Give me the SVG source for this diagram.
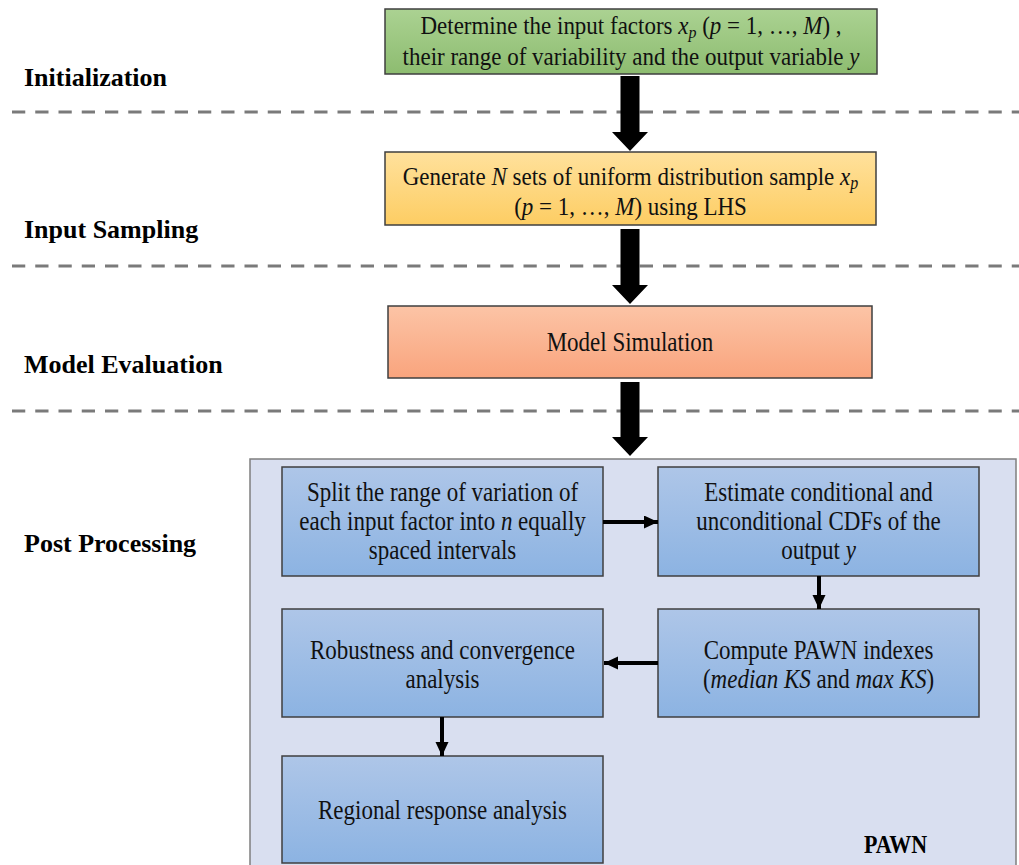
<svg xmlns="http://www.w3.org/2000/svg" width="1019" height="865" viewBox="0 0 1019 865">
<style>
.lbl{font-family:"Liberation Serif","Times New Roman",serif;font-weight:bold;font-size:26px;fill:#000}
.t{font-family:"Liberation Serif","Times New Roman",serif;font-size:23px;fill:#111;text-anchor:middle}
.i{font-style:italic}
.sub{font-style:italic;font-size:16px}
.box{stroke:#3f3f3f;stroke-width:1.5}
.dash{stroke:#7a7a7a;stroke-width:3;stroke-dasharray:13.25 10;fill:none}
.big{fill:#000}
.conn{stroke:#000;stroke-width:4;fill:none}
</style>
<defs>
<linearGradient id="gG" x1="0" y1="0" x2="0" y2="1"><stop offset="0" stop-color="#abd292"/><stop offset="1" stop-color="#8dbc70"/></linearGradient>
<linearGradient id="gY" x1="0" y1="0" x2="0" y2="1"><stop offset="0" stop-color="#ffe19c"/><stop offset="1" stop-color="#fdcd63"/></linearGradient>
<linearGradient id="gO" x1="0" y1="0" x2="0" y2="1"><stop offset="0" stop-color="#fcc4a6"/><stop offset="1" stop-color="#f9a47d"/></linearGradient>
<linearGradient id="gB" x1="0" y1="0" x2="0" y2="1"><stop offset="0" stop-color="#aec6e8"/><stop offset="1" stop-color="#8cb3e2"/></linearGradient>
<marker id="ah" markerUnits="userSpaceOnUse" markerWidth="15" markerHeight="14" refX="14" refY="6.5" orient="auto"><path d="M0,0 L14,6.5 L0,13 z" fill="#000"/></marker>
</defs>
<rect width="1019" height="865" fill="#fff"/>

<g id="phases">
<text class="lbl" x="24" y="86">Initialization</text>
<text class="lbl" x="24" y="238">Input Sampling</text>
<text class="lbl" x="24" y="373">Model Evaluation</text>
<text class="lbl" x="24" y="552">Post Processing</text>
<line class="dash" x1="12" y1="112" x2="1019" y2="112"/>
<line class="dash" x1="12" y1="266" x2="1019" y2="266"/>
<line class="dash" x1="12" y1="411" x2="1019" y2="411"/>
</g>

<g id="pawn">
<rect x="250" y="459" width="766" height="420" fill="#d9dff0" stroke="#7f7f7f" stroke-width="1.5"/>
<text class="lbl" transform="translate(864,853) scale(1,1.1)" style="font-size:22px">PAWN</text>
</g>

<g id="init">
<rect class="box" x="385" y="9" width="492" height="65" fill="url(#gG)"/>
<text class="t" transform="translate(631,34) scale(1,1.1)">Determine the input factors <tspan class="i">x</tspan><tspan class="sub" dy="4">p</tspan><tspan dy="-4"> (</tspan><tspan class="i">p</tspan> = 1, …, <tspan class="i">M</tspan>) ,</text>
<text class="t" transform="translate(631,65) scale(1,1.1)">their range of variability and the output variable <tspan class="i">y</tspan></text>
</g>

<g id="sampling">
<rect class="box" x="385" y="152" width="491" height="73" fill="url(#gY)"/>
<text class="t" transform="translate(630.5,185) scale(1,1.12)">Generate <tspan class="i">N</tspan> sets of uniform distribution sample <tspan class="i">x</tspan><tspan class="sub" dy="4">p</tspan></text>
<text class="t" transform="translate(630.5,215) scale(1,1.12)">(<tspan class="i">p</tspan> = 1, …, <tspan class="i">M</tspan>) using LHS</text>
</g>

<g id="model">
<rect class="box" x="388" y="306" width="484" height="72" fill="url(#gO)"/>
<text class="t" transform="translate(630,351) scale(1,1.15)">Model Simulation</text>
</g>

<g id="split">
<rect class="box" x="282" y="467" width="321" height="109" fill="url(#gB)"/>
<text class="t" transform="translate(442.5,501) scale(1,1.15)">Split the range of variation of</text>
<text class="t" transform="translate(442.5,530) scale(1,1.15)">each input factor into <tspan class="i">n</tspan> equally</text>
<text class="t" transform="translate(442.5,559) scale(1,1.15)">spaced intervals</text>
</g>

<g id="estimate">
<rect class="box" x="658" y="467" width="321" height="109" fill="url(#gB)"/>
<text class="t" transform="translate(818.5,501) scale(1,1.15)">Estimate conditional and</text>
<text class="t" transform="translate(818.5,530) scale(1,1.15)">unconditional CDFs of the</text>
<text class="t" transform="translate(818.5,559) scale(1,1.15)">output <tspan class="i">y</tspan></text>
</g>

<g id="compute">
<rect class="box" x="658" y="609" width="321" height="108" fill="url(#gB)"/>
<text class="t" transform="translate(818.5,659) scale(1,1.15)">Compute PAWN indexes</text>
<text class="t" transform="translate(818.5,688) scale(1,1.15)">(<tspan class="i">median KS</tspan> and <tspan class="i">max KS</tspan>)</text>
</g>

<g id="robust">
<rect class="box" x="282" y="609" width="321" height="108" fill="url(#gB)"/>
<text class="t" transform="translate(442.5,659) scale(1,1.15)">Robustness and convergence</text>
<text class="t" transform="translate(442.5,688) scale(1,1.15)">analysis</text>
</g>

<g id="regional">
<rect class="box" x="282" y="756" width="321" height="107" fill="url(#gB)"/>
<text class="t" transform="translate(442.5,819) scale(1,1.15)">Regional response analysis</text>
</g>

<g id="connectors">
<polygon class="big" points="620.5,76 639.5,76 639.5,132 648,132 630,151 612,132 620.5,132"/>
<polygon class="big" points="620.5,229 639.5,229 639.5,285 648,285 630,304 612,285 620.5,285"/>
<polygon class="big" points="620.5,382 639.5,382 639.5,437 648,437 630,456 612,437 620.5,437"/>
<line class="conn" x1="603" y1="522" x2="658" y2="522" marker-end="url(#ah)"/>
<line class="conn" x1="819" y1="576" x2="819" y2="609" marker-end="url(#ah)"/>
<line class="conn" x1="658" y1="663" x2="604" y2="663" marker-end="url(#ah)"/>
<line class="conn" x1="442" y1="717" x2="442" y2="756" marker-end="url(#ah)"/>
</g>
</svg>
